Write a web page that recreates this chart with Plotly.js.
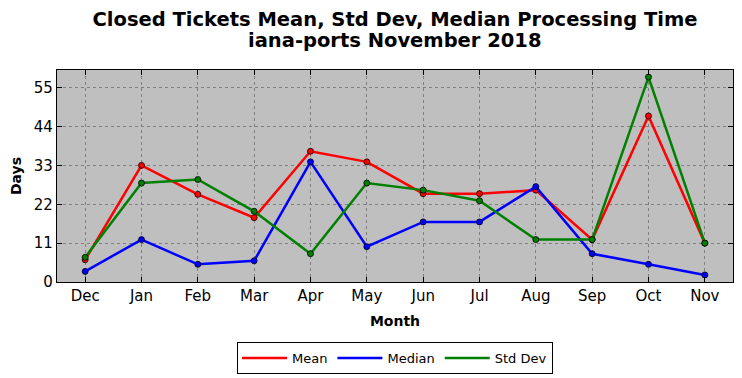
<!DOCTYPE html>
<html><head><meta charset="utf-8">
<script src="https://cdn.plot.ly/plotly-3.0.1.min.js"></script>
<style>body{margin:0;padding:0;background:#fff}#chart{width:742px;height:378px}</style>
</head><body><div id="chart"></div>
<script>
const months = ["Dec","Jan","Feb","Mar","Apr","May","Jun","Jul","Aug","Sep","Oct","Nov"];
const meanVals = [6.3, 33, 24.8, 18.2, 37, 34, 25, 25, 26, 12, 47, 11];
const medianVals = [3, 12, 5, 6, 34, 10, 17, 17, 27, 8, 5, 2];
const stdVals = [7, 28, 29, 20, 8, 28, 26, 23, 12, 12, 58, 11];
const yTicks = [0, 11, 22, 33, 44, 55];
const titleLine1 = 'Closed Tickets Mean, Std Dev, Median Processing Time';
const titleLine2 = 'iana-ports November 2018';

function tr(name, y, color){
  return {x: months.map((m,i)=>i), y: y, name: name, type: 'scatter', mode: 'lines+markers',
    showlegend: false, legendgroup: name,
    line: {color: color, width: 2.5},
    marker: {color: color, size: 6, line: {color: '#000', width: 0.8}}};
}
function lg(name, color){
  return {x: [null], y: [null], name: name, type: 'scatter', mode: 'lines', legendgroup: name,
    line: {color: color, width: 2.5}, showlegend: true};
}
const data = [tr('Mean', meanVals, '#ff0000'), tr('Median', medianVals, '#0000ff'), tr('Std Dev', stdVals, '#008000'),
  lg('Mean', '#ff0000'), lg('Median', '#0000ff'), lg('Std Dev', '#008000')];
const layout = {
  width: 742, height: 378,
  margin: {l: 57, r: 9, t: 70, b: 96},
  paper_bgcolor: '#fff', plot_bgcolor: '#bfbfbf',
  font: {family: 'DejaVu Sans', color: '#000'},
  title: {text: '<b>' + titleLine1 + '</b>',
    font: {size: 19.5, family: 'DejaVu Sans'}, xref: 'paper', x: 0.5, xanchor: 'center',
    yref: 'container', y: 1 - 19/378, yanchor: 'middle'},
  annotations: [{text: '<b>' + titleLine2 + '</b>', xref: 'paper', x: 0.5, xanchor: 'center',
    yref: 'paper', y: 1 + 29/212, yanchor: 'middle', showarrow: false, font: {size: 19.5, family: 'DejaVu Sans'}}],
  xaxis: {range: [-0.5, 11.5], tickmode: 'array', tickvals: months.map((m,i)=>i), ticktext: months,
    ticks: 'inside', ticklen: 5, tickcolor: '#000', mirror: 'ticks', showline: true, linecolor: '#000', linewidth: 1.2,
    showgrid: true, gridcolor: '#7f7f7f', griddash: 'dot', gridwidth: 1, zeroline: false,
    tickfont: {size: 15}, title: {text: '<b>Month</b>', font: {size: 14}, standoff: 12}},
  yaxis: {range: [0, 60], tickmode: 'array', tickvals: yTicks,
    ticks: 'inside', ticklen: 5, tickcolor: '#000', mirror: 'ticks', showline: true, linecolor: '#000', linewidth: 1.2,
    showgrid: true, gridcolor: '#7f7f7f', griddash: 'dot', gridwidth: 1, zeroline: false,
    tickfont: {size: 15}, title: {text: '<b>Days</b>', font: {size: 14}, standoff: 8}},
  showlegend: true,
  legend: {orientation: 'h', x: 0.5, xanchor: 'center', yref: 'container', y: (378 - 342)/378, yanchor: 'top',
    bordercolor: '#000', borderwidth: 1, bgcolor: '#fff', font: {size: 13},
    itemwidth: 45, tracegroupgap: 0}
};
Plotly.newPlot('chart', data, layout, {displayModeBar: false});
</script></body></html>
